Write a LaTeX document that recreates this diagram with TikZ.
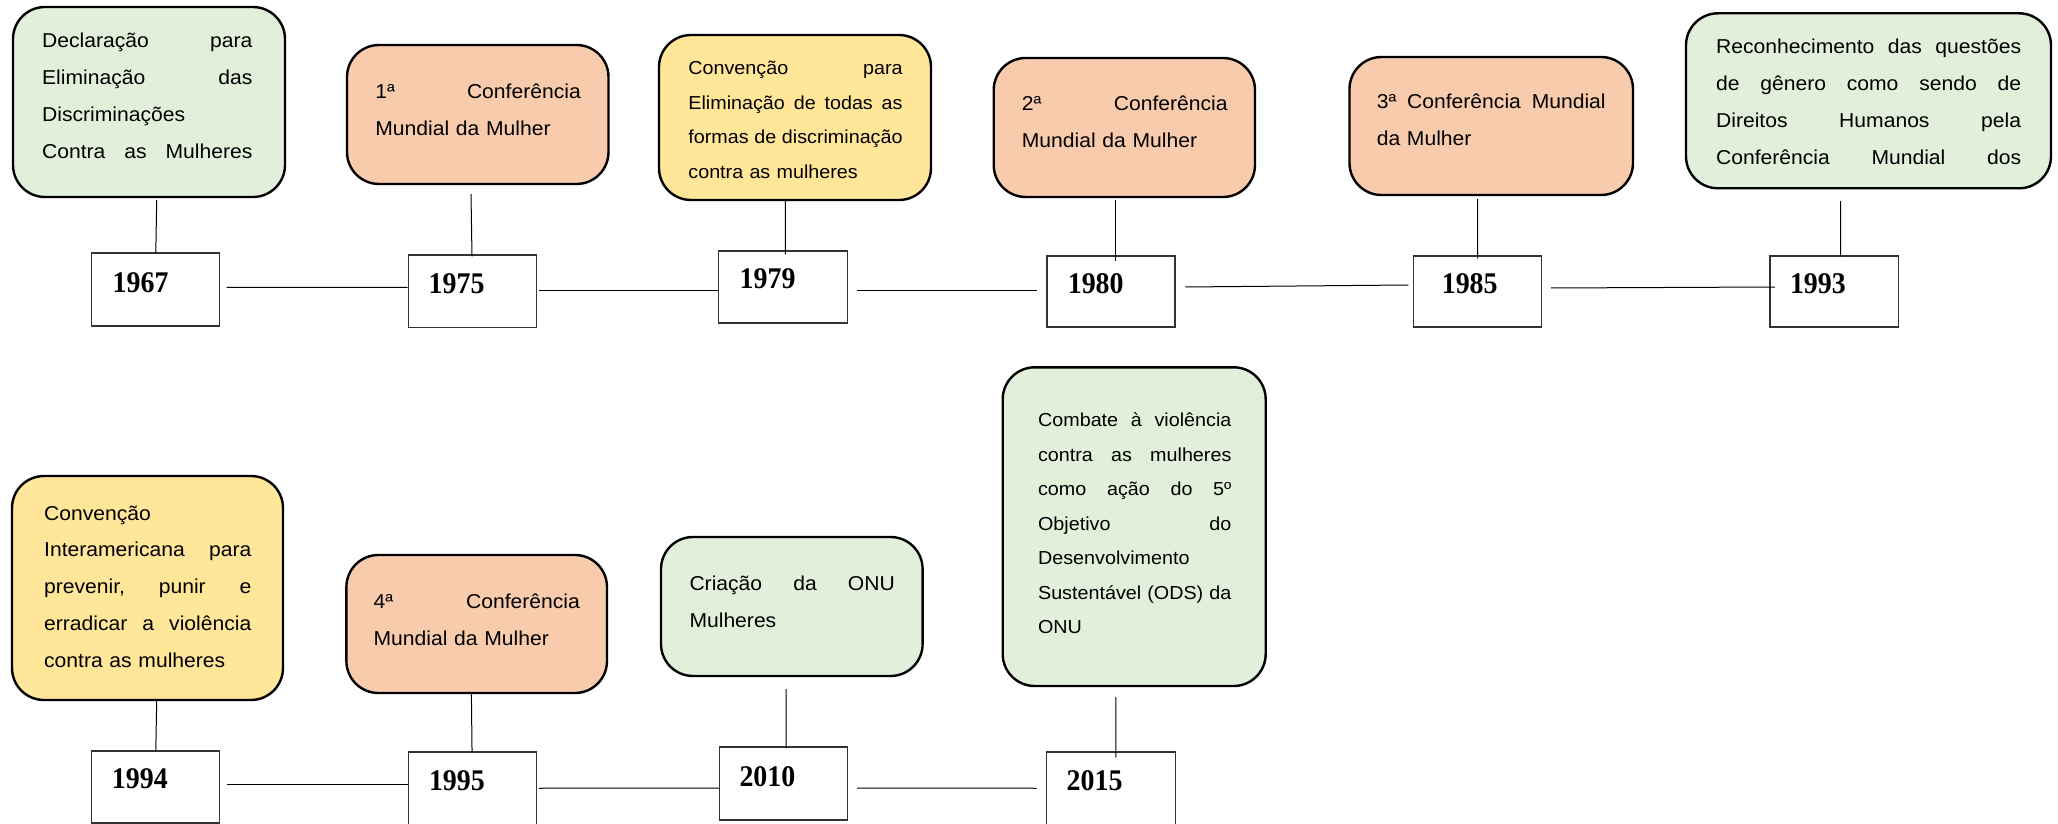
\documentclass[tikz,border=0pt]{standalone}
\usepackage{fontspec}
\setmainfont{Liberation Sans}
\newfontfamily\evfont{Liberation Sans}[FakeStretch=1.05]
\newfontfamily\yrfont{Liberation Serif}[FakeStretch=0.93]
\usetikzlibrary{fit}
\definecolor{evgreen}{RGB}{226,239,218}
\definecolor{evorange}{RGB}{248,203,173}
\definecolor{evyellow}{RGB}{255,230,153}
% one justified line of a card: words spread with \hfill over the card's text width
\newcommand\jl[1]{\leavevmode\hbox to\cardw{#1}}
\def\cardw{100pt}

\begin{document}
\begin{tikzpicture}[x=0.5pt,y=-0.5pt,
  event/.style={draw=black, line width=1.2pt, rounded corners=16pt, inner sep=0pt},
  yearbox/.style={draw=black!80, line width=0.6pt, inner sep=0pt},
  evtext/.style={anchor=base west, inner sep=0pt, align=left,
    font=\evfont\fontsize{10.05pt}{18.4pt}\selectfont},
  evsmall/.style={evtext, font=\evfont\fontsize{9.4pt}{17.25pt}\selectfont},
  cardw/.style={text width=#1, execute at begin node={\def\cardw{#1}}},
  yeartext/.style={anchor=base west, inner sep=0pt,
    font=\yrfont\fontsize{15pt}{18pt}\selectfont\bfseries},
  link/.style={draw=black, line width=0.5pt}]

\useasboundingbox (0,0) rectangle (2058,824);

% ---------- event cards, upper row ----------
\node[event, fill=evgreen,  fit={(13,7) (285,197)}]        (e67) {};
\node[event, fill=evorange, fit={(347,45) (608.5,184)}]    (e75) {};
\node[event, fill=evyellow, fit={(659,35) (931,200)}]      (e79) {};
\node[event, fill=evorange, fit={(993.7,58) (1255,197)}]   (e80) {};
\node[event, fill=evorange, fit={(1349.5,57) (1633,195)}]  (e85) {};
\node[event, fill=evgreen,  fit={(1686,13.3) (2051,188.3)}] (e93) {};

% ---------- event cards, lower row ----------
\node[event, fill=evyellow, fit={(12,476) (283,700)}]        (e94) {};
\node[event, fill=evorange, fit={(346.4,555) (607,693)}]     (e95) {};
\node[event, fill=evgreen,  fit={(661,537) (922.6,676)}]     (e10) {};
\node[event, fill=evgreen,  fit={(1002.7,367.3) (1265.7,686)}] (e15) {};

% ---------- card texts ----------
\node[evtext, cardw=105.15pt] (t67) at (41.7,47.7)
  {\jl{Declaração\hfill para}\\\jl{Eliminação\hfill das}\\Discriminações\\\jl{Contra\hfill as\hfill Mulheres}};
\node[evtext, cardw=102.7pt] (t75) at (375,98.3)
  {\jl{1ª\hfill Conferência}\\Mundial da Mulher};
\node[evsmall, cardw=107.1pt] (t79) at (688,75)
  {\jl{Convenção\hfill para}\\\jl{Eliminação\hfill de\hfill todas\hfill as}\\\jl{formas\hfill de\hfill discriminação}\\contra as mulheres};
\node[evtext, cardw=102.9pt] (t80) at (1021.4,111)
  {\jl{2ª\hfill Conferência}\\Mundial da Mulher};
\node[evtext, cardw=114.45pt] (t85) at (1376.4,108.3)
  {\jl{3ª\hfill Conferência\hfill Mundial}\\da Mulher};
\node[evtext, cardw=152.5pt] (t93) at (1715.7,54)
  {\jl{Reconhecimento\hfill das\hfill questões}\\\jl{de\hfill gênero\hfill como\hfill sendo\hfill de}\\\jl{Direitos\hfill Humanos\hfill pela}\\\jl{Conferência\hfill Mundial\hfill dos}};
\node[evtext, cardw=103.6pt] (t94) at (43.75,520)
  {Convenção\\\jl{Interamericana\hfill para}\\\jl{prevenir,\hfill punir\hfill e}\\\jl{erradicar\hfill a\hfill violência}\\contra as mulheres};
\node[evtext, cardw=103.15pt] (t95) at (373.2,608.3)
  {\jl{4ª\hfill Conferência}\\Mundial da Mulher};
\node[evtext, cardw=102.7pt] (t10) at (689.1,590.7)
  {\jl{Criação\hfill da\hfill ONU}\\Mulheres};
\node[evsmall, cardw=96.65pt] (t15) at (1037.7,426.7)
  {\jl{Combate\hfill à\hfill violência}\\\jl{contra\hfill as\hfill mulheres}\\\jl{como\hfill ação\hfill do\hfill 5º}\\\jl{Objetivo\hfill do}\\Desenvolvimento\\\jl{Sustentável\hfill(ODS)\hfill da}\\ONU};

% ---------- year boxes ----------
\node[yearbox, fit={(91.7,253) (219.3,326)}]     (y67) {};
\node[yearbox, fit={(408.3,255) (536.7,327.7)}]  (y75) {};
\node[yearbox, fit={(718.75,251) (847.3,323)}]   (y79) {};
\node[yearbox, fit={(1046.9,256) (1175,327)}]    (y80) {};
\node[yearbox, fit={(1413.6,256) (1541.7,327)}]  (y85) {};
\node[yearbox, fit={(1770,256) (1898.7,327)}]    (y93) {};
\node[yearbox, fit={(91.5,751) (219.6,823)}]     (y94) {};
\node[yearbox, fit={(408.5,752) (536.6,824.5)}]  (y95) {};
\node[yearbox, fit={(719.5,747) (847.1,820)}]    (y10) {};
\node[yearbox, fit={(1046.7,752) (1175.3,824.5)}] (y15) {};

\node[yeartext] (n67) at (112.3,292.7)  {1967};
\node[yeartext] (n75) at (428.3,293.3)  {1975};
\node[yeartext] (n79) at (739.3,288.3)  {1979};
\node[yeartext] (n80) at (1067.4,293.3) {1980};
\node[yeartext] (n85) at (1441.4,293.3) {1985};
\node[yeartext] (n93) at (1789.6,293.3) {1993};
\node[yeartext] (n94) at (111.6,788.3)  {1994};
\node[yeartext] (n95) at (428.6,790.7)  {1995};
\node[yeartext] (n10) at (739.1,786)    {2010};
\node[yeartext] (n15) at (1066.3,790.7) {2015};

% ---------- time line, upper row ----------
\draw[link] ([shift={(6.7,-2.2)}]y67.east) -- ([shift={(0,-4)}]y75.west);
\draw[link] ([shift={(1.7,-1.35)}]y75.east) -- ([shift={(0,3)}]y79.west);
\draw[link] ([shift={(9,3)}]y79.east) -- ([shift={(-9.4,-1.5)}]y80.west);
\draw[link] ([shift={(9.8,-4.5)}]y80.east) -- ([shift={(-4.6,-6.5)}]y85.west);
\draw[link] ([shift={(8.8,-3.5)}]y85.east) -- ([shift={(5.7,-4.5)}]y93.west);

% ---------- time line, lower row ----------
\draw[link] ([shift={(6.4,-3)}]y94.east) -- ([shift={(0,-4.25)}]y95.west);
\draw[link] ([shift={(1.8,0)}]y95.east) -- ([shift={(0,4.5)}]y10.west);
\draw[link] ([shift={(9.4,4.5)}]y10.east) -- ([shift={(-9.4,0)}]y15.west);

% ---------- card to year connectors ----------
\draw[link] ([shift={(7.7,2)}]e67.south) -- ([shift={(0.3,1)}]y67.north);
\draw[link] ([shift={(-6.75,9)}]e75.south) -- ([shift={(-0.5,2)}]y75.north);
\draw[link] ([shift={(-9.7,0)}]e79.south) -- ([shift={(2.3,4)}]y79.north);
\draw[link] ([shift={(-8.75,2)}]e80.south) -- ([shift={(4.65,6)}]y80.north);
\draw[link] ([shift={(-13.65,3)}]e85.south) -- ([shift={(0,3)}]y85.north);
\draw[link] ([shift={(-27.8,11.7)}]e93.south) -- ([shift={(6.35,1)}]y93.north);
\draw[link] ([shift={(9.2,0)}]e94.south) -- ([shift={(0.25,0)}]y94.north);
\draw[link] ([shift={(-5.3,0)}]e95.south) -- ([shift={(-0.5,1)}]y95.north);
\draw[link] ([shift={(-5.8,12)}]e10.south) -- ([shift={(2.7,2)}]y10.north);
\draw[link] ([shift={(-18.3,10)}]e15.south) -- ([shift={(4.9,6)}]y15.north);
\end{tikzpicture}
\end{document}
